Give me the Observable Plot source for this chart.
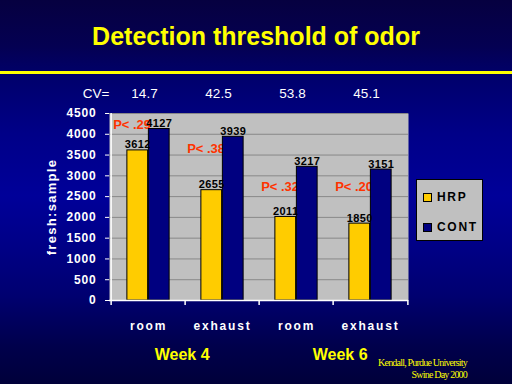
<!DOCTYPE html>
<html>
<head>
<meta charset="utf-8">
<script src="https://cdn.jsdelivr.net/npm/d3@7"></script>
<script src="https://cdn.jsdelivr.net/npm/@observablehq/plot@0.6"></script>
<style>
  html, body { margin: 0; padding: 0; }
  body {
    width: 512px; height: 384px; overflow: hidden; position: relative;
    background: linear-gradient(to bottom, #060040 0%, #040052 12%, #00006c 20%, #000088 35%, #000099 51%, #000088 63%, #000070 77%, #00004c 90%, #00003a 100%);
    font-family: "Liberation Sans", Arial, sans-serif;
  }
  #title {
    position: absolute; left: 0; top: 24px; width: 512px; text-align: center;
    color: #ffff00; font-weight: bold; font-size: 25px; line-height: 25px;
  }
  #rule { position: absolute; left: 0; top: 71px; width: 512px; height: 3px; background: #ffff00; }
  #chart { position: absolute; left: 0; top: 80px; }
  #legend {
    position: absolute; left: 416px; top: 179px; width: 65px; height: 60px;
    background: #c0c0c0; border: 1px solid #000;
  }
  .item { position: absolute; left: 6px; height: 12px; display: flex; align-items: center;
    font-weight: bold; font-size: 12px; letter-spacing: 1.7px; color: #000; white-space: nowrap; }
  .sw { width: 7px; height: 7px; border: 1px solid #000; margin-right: 5px; }
  #caption {
    position: absolute; right: 45px; top: 357px; text-align: right;
    color: #ffff00; font-family: "Liberation Serif", "Times New Roman", serif;
    font-size: 10px; line-height: 12px; letter-spacing: -0.8px;
  }
</style>
</head>
<body>
<div id="title">Detection threshold of odor</div>
<div id="rule"></div>
<div id="chart"></div>
<div id="legend"></div>
<div id="caption">Kendall, Purdue University<br>Swine Day 2000</div>
<script>
// ---- data ----
const keys = ["w4-room", "w4-exhaust", "w6-room", "w6-exhaust"];
const categories = ["room", "exhaust", "room", "exhaust"];
const series = ["HRP", "CONT"];
const seriesColors = ["#ffcc00", "#000080"];
const hrp = [3612, 2655, 2011, 1850];
const cont = [4127, 3939, 3217, 3151];
const cv = ["14.7", "42.5", "53.8", "45.1"];
const pLabels = ["P< .29", "P< .38", "P< .32", "P< .20"];
const pLabelY = [4115, 3561, 2647, 2647];
const weeks = ["Week 4", "Week 6"];
const weekKeys = ["w4-exhaust", "w6-exhaust"];
const yTicks = [0, 500, 1000, 1500, 2000, 2500, 3000, 3500, 4000, 4500];
const yLabel = "fresh:sample";

// ---- tables ----
const rows = keys.map((k, i) => ({key: k, cat: categories[i], hrp: hrp[i], cont: cont[i], cv: cv[i], p: pLabels[i], py: pLabelY[i]}));
const catOf = Object.fromEntries(keys.map((k, i) => [k, categories[i]]));

const width = 512, height = 304;
const marginLeft = 109, marginRight = 104, marginTop = 33, marginBottom = 84;
const bw = (width - marginLeft - marginRight) / keys.length;
const half = bw / 2;
const barW = 21.5;
const white = "#ffffff";
const yMid = (yTicks[0] + yTicks[yTicks.length - 1]) / 2;

const plot = Plot.plot({
  width, height, marginLeft, marginRight, marginTop, marginBottom,
  style: {background: "transparent", fontFamily: "'Liberation Sans', Arial, sans-serif", overflow: "visible"},
  x: {domain: keys, padding: 0, axis: null},
  y: {domain: [0, 4500], axis: null},
  color: {domain: series, range: seriesColors},
  marks: [
    Plot.frame({fill: "#c0c0c0", stroke: null}),
    Plot.gridY(yTicks.slice(1), {stroke: "#888888", strokeOpacity: 1}),
    // p-value annotations (drawn below the bars)
    Plot.text(rows, {x: "key", y: "py", text: "p", textAnchor: "start", lineAnchor: "bottom",
      dx: -half + 2, fill: "#ff3300", fontSize: 13, fontWeight: "bold"}),
    Plot.barY(rows, {x: "key", y: "hrp", fill: () => "HRP", stroke: "#000", strokeWidth: 1,
      insetLeft: half - barW, insetRight: half}),
    Plot.barY(rows, {x: "key", y: "cont", fill: () => "CONT", stroke: "#000", strokeWidth: 1,
      insetLeft: half, insetRight: half - barW}),
    Plot.text(rows, {x: "key", y: "hrp", text: d => String(d.hrp), dx: -barW / 2, dy: -2, lineAnchor: "bottom",
      fill: "#000", fontSize: 11, fontWeight: "bold"}),
    Plot.text(rows, {x: "key", y: "cont", text: d => String(d.cont), dx: barW / 2, dy: -2, lineAnchor: "bottom",
      fill: "#000", fontSize: 11, fontWeight: "bold"}),
    // axis lines
    Plot.ruleY([0], {stroke: white, strokeWidth: 1.5}),
    Plot.ruleX(keys.slice(0, 1), {x: d => d, dx: -half, stroke: white, strokeWidth: 1.5}),
    // category boundary ticks
    Plot.ruleX(keys, {x: d => d, dx: -half, y1: 0, y2: 0, insetBottom: -5, stroke: white, strokeWidth: 1.5}),
    Plot.ruleX(keys.slice(-1), {x: d => d, dx: half, y1: 0, y2: 0, insetBottom: -5, stroke: white, strokeWidth: 1.5}),
    Plot.axisY({ticks: yTicks, tickSize: 4, tickPadding: 9, color: white, fontSize: 12, fontWeight: "bold",
      tickFormat: d => String(d), label: null}),
    Plot.axisX({tickSize: 0, tickPadding: 20.5, color: white, fontSize: 12, fontWeight: "bold",
      tickFormat: d => catOf[d], label: null}),
    // CV row
    Plot.text(rows, {x: "key", text: "cv", frameAnchor: "top", lineAnchor: "bottom", dy: -16, dx: -4,
      fill: white, fontSize: 13.5}),
    Plot.text(["CV="], {frameAnchor: "top-left", textAnchor: "end", lineAnchor: "bottom", dy: -16,
      fill: white, fontSize: 13.5}),
    // week labels
    Plot.text([weeks[0]], {x: () => weekKeys[0], text: d => d, dx: -half - 3, frameAnchor: "bottom",
      lineAnchor: "bottom", dy: 59, fill: "#ffff00", fontSize: 16, fontWeight: "bold"}),
    Plot.text([weeks[1]], {x: () => weekKeys[1], text: d => d, dx: -half + 7, frameAnchor: "bottom",
      lineAnchor: "bottom", dy: 59, fill: "#ffff00", fontSize: 16, fontWeight: "bold"}),
    // y label
    Plot.text([yLabel], {x: () => keys[0], y: () => yMid, text: d => d, rotate: -90, dx: -half - 59,
      fill: white, fontSize: 13, fontWeight: "bold"})
  ]
});
document.getElementById("chart").appendChild(plot);

// letter spacing (not a Plot option), applied to the rendered texts by their content
const catSet = new Set(categories);
const valueSet = new Set([...hrp, ...cont].map(String));
const tickSet = new Set(yTicks.map(String));
plot.querySelectorAll("text").forEach(t => {
  const s = t.textContent;
  if (s === yLabel) t.style.letterSpacing = "1.3px";
  else if (catSet.has(s)) t.style.letterSpacing = "1.8px";
  else if (valueSet.has(s)) t.style.letterSpacing = "0.4px";
  else if (tickSet.has(s) && t.getAttribute("fill") !== "#000") t.style.letterSpacing = "0.8px";
});

// legend built from the plot's color scale
const color = plot.scale("color");
const legend = document.getElementById("legend");
series.forEach((s, i) => {
  const item = document.createElement("div");
  item.className = "item";
  item.style.top = (i === 0 ? 11 : 41) + "px";
  const sw = document.createElement("div");
  sw.className = "sw";
  sw.style.background = color.range[color.domain.indexOf(s)];
  item.appendChild(sw);
  item.appendChild(document.createTextNode(s));
  legend.appendChild(item);
});
</script>
</body>
</html>
